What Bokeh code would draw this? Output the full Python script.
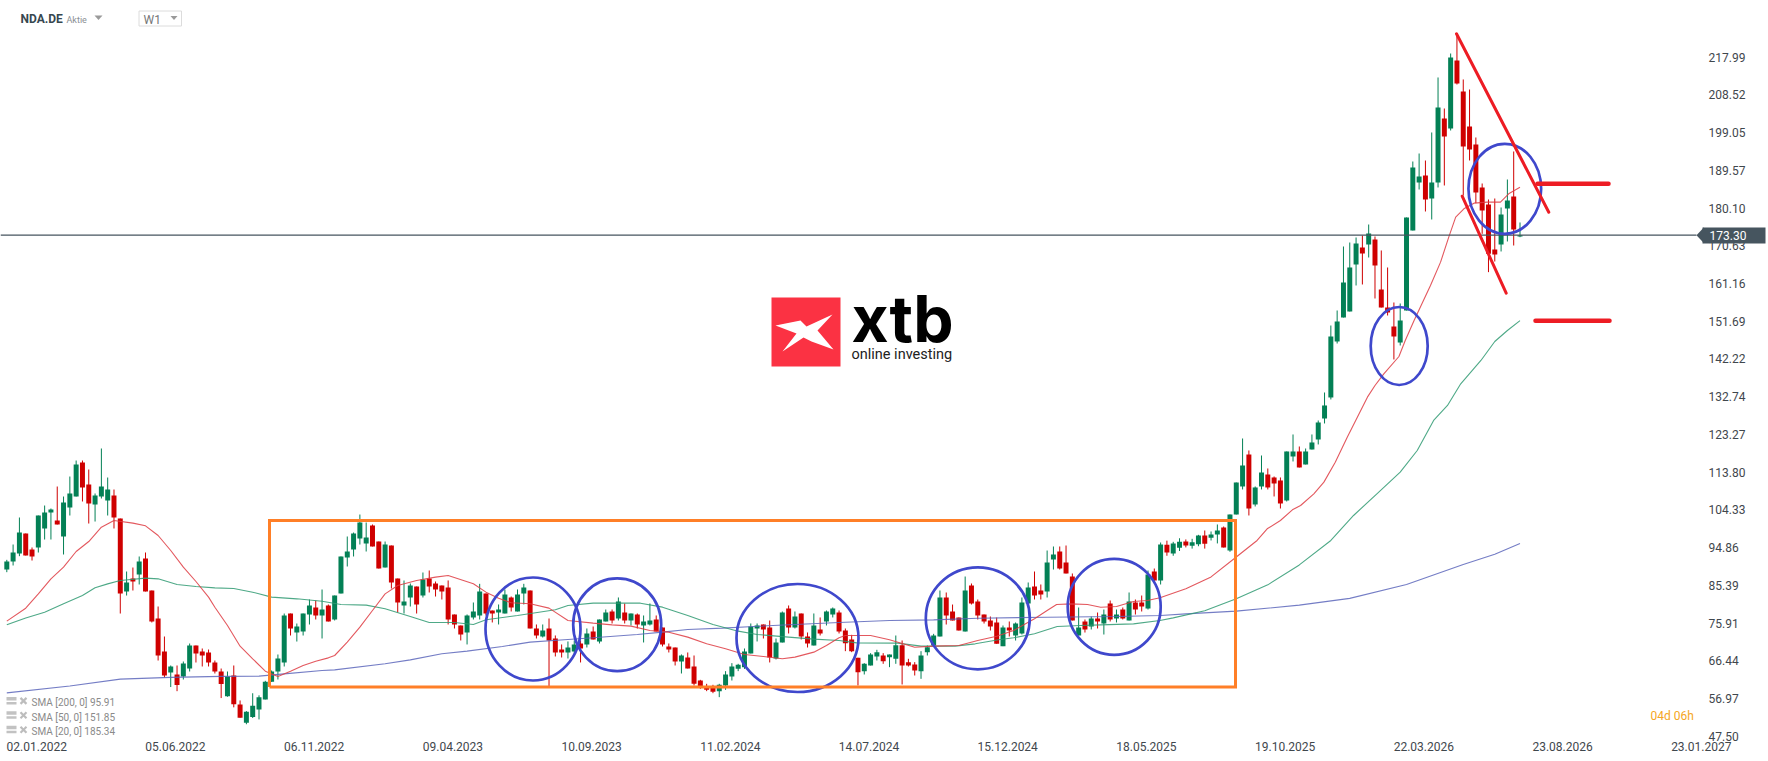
from bokeh.plotting import figure
from bokeh.models import ColumnDataSource, FixedTicker, LinearAxis, Range1d, PolyAnnotation
from bokeh.core.properties import value
from bokeh.embed import file_html
from bokeh.resources import INLINE

opens = [89.35,91.36,93.37,98.39,94.37,94.88,99.65,103.66,101.66,97.64,
104.92,107.68,116.22,110.70,105.67,107.68,106.68,107.93,102.16,83.83,
87.09,88.10,92.11,84.08,77.05,68.76,63.49,62.99,62.48,64.49,
70.27,68.76,68.51,66.00,63.74,57.50,62.74,55.43,50.85,52.32,
54.22,56.73,61.14,63.74,66.00,78.30,73.53,73.78,78.05,79.81,
77.80,80.31,76.80,83.33,92.37,94.37,97.14,95.88,100.40,96.38,
89.85,95.38,87.09,80.31,82.32,85.08,82.82,87.09,85.84,85.34,
84.84,78.06,75.30,73.54,77.31,77.81,83.33,79.06,78.56,78.31,
82.33,78.81,83.33,84.09,74.54,72.53,74.54,72.03,69.27,68.52,
68.77,70.78,70.53,73.79,71.28,76.30,78.81,77.05,78.56,76.55,
78.06,75.30,75.55,76.80,74.79,70.02,69.77,66.26,67.26,65.00,
61.48,59.81,59.64,58.81,60.23,62.49,64.41,64.83,68.27,74.54,
75.55,74.79,67.01,71.03,79.57,74.79,78.31,72.53,70.27,74.29,
76.30,78.06,78.56,74.03,71.78,67.18,63.83,65.25,67.51,67.76,
67.34,66.93,70.36,66.09,65.50,63.83,68.60,70.27,72.53,82.32,
78.81,77.30,73.78,85.33,81.32,78.05,76.54,76.05,70.11,74.79,
72.78,73.28,80.81,85.08,84.08,83.83,91.86,93.87,91.11,87.59,
72.78,76.30,75.04,77.05,75.79,80.81,77.05,79.31,76.55,81.07,
81.07,79.56,88.85,86.59,95.60,93.40,94.80,96.40,95.30,95.70,
97.90,97.31,98.15,99.90,94.12,103.17,110.20,118.23,105.68,110.20,
113.21,112.46,111.71,106.68,117.73,118.99,115.72,119.49,122.00,127.27,
132.55,146.61,152.63,154.14,165.94,170.21,170.96,172.22,159.66,155.14,
150.37,146.35,154.39,174.48,186.53,188.29,182.51,186.53,202.60,200.09,
217.17,209.38,200.59,196.07,185.28,181.01,169.71,170.96,180.00,183.02,
172.97]

highs = [91.78,95.63,102.41,98.39,94.88,102.91,105.42,104.67,110.19,107.68,
112.70,116.72,116.72,114.46,108.44,119.74,112.45,109.44,102.16,88.85,
89.85,92.62,93.62,84.08,80.06,72.53,65.25,65.25,66.25,70.77,
70.27,69.52,69.26,66.50,64.49,63.74,65.25,56.47,53.79,58.28,
57.76,61.40,63.99,68.01,78.30,78.30,75.79,78.30,81.82,81.57,
84.33,80.56,82.82,92.62,97.64,98.64,103.16,101.15,100.65,96.38,
96.38,95.38,87.09,86.59,85.84,85.08,88.60,89.10,86.34,85.34,
86.60,78.06,75.30,78.06,81.07,85.76,83.33,79.06,80.57,84.34,
82.58,84.34,85.76,84.09,75.55,75.55,77.05,72.79,70.53,71.28,
71.53,71.53,74.54,75.04,76.80,79.31,79.31,82.33,80.82,78.31,
78.31,77.81,80.82,77.81,74.79,70.78,69.77,68.02,68.52,67.76,
61.65,60.65,60.40,60.65,63.83,65.84,65.67,69.52,75.80,75.80,
75.55,76.55,72.03,78.81,80.32,78.81,78.31,73.54,78.31,77.31,
79.06,79.82,79.06,74.54,72.95,67.18,65.84,68.35,69.19,68.35,
68.01,72.78,71.53,66.93,66.09,68.85,70.27,73.20,84.08,83.58,
80.56,77.30,87.59,85.84,81.82,78.05,77.55,77.30,75.29,76.30,
76.05,82.32,86.09,88.85,85.59,94.12,95.13,95.13,95.38,88.35,
79.81,76.80,77.55,78.55,79.31,81.57,79.31,79.81,83.58,81.82,
82.82,89.10,89.60,96.13,96.60,96.30,97.20,96.90,97.06,98.06,
99.15,98.90,100.66,100.15,103.17,111.20,122.25,119.24,110.20,117.98,
114.72,112.71,112.46,118.99,123.26,120.24,119.74,123.26,126.77,133.80,
150.62,154.39,170.46,171.46,172.72,173.22,175.98,172.97,169.46,165.19,
156.40,156.15,177.74,191.80,193.81,192.05,199.09,212.90,205.11,218.92,
223.86,212.40,209.88,197.83,186.28,182.26,182.51,180.25,187.28,194.32,
176.49]

lows = [88.68,90.36,92.70,92.87,91.61,93.62,96.88,96.88,100.65,93.12,
102.91,107.68,106.43,100.90,101.40,107.18,102.91,99.65,78.30,82.82,
84.08,85.59,83.83,76.05,66.50,62.23,59.84,58.80,61.73,63.74,
66.00,65.00,65.00,63.24,57.07,57.40,54.74,52.14,50.50,52.06,
51.71,56.73,61.14,61.73,65.00,72.78,71.27,72.78,75.54,76.80,
72.03,76.30,76.55,83.33,90.11,92.62,95.63,93.87,95.13,89.60,
89.85,84.58,78.55,78.30,80.06,78.30,82.32,83.58,82.57,81.82,
75.55,74.54,71.53,70.53,76.80,76.80,77.81,76.05,75.55,78.31,
78.81,78.81,80.57,74.54,72.03,72.28,59.73,67.51,67.26,67.01,
67.76,66.01,69.77,71.78,70.78,76.30,75.80,76.55,75.80,75.30,
74.54,71.03,75.30,73.79,70.02,68.52,65.25,63.24,64.50,60.23,
59.39,58.81,58.30,57.30,59.14,61.48,63.83,64.40,68.27,71.28,
72.03,66.01,66.76,71.03,73.29,74.54,71.78,69.77,70.27,72.79,
75.30,77.31,73.29,68.85,68.60,60.23,62.99,65.25,66.51,65.67,
64.83,65.67,60.48,65.00,62.74,61.90,67.76,70.00,72.53,75.54,
76.55,74.03,73.78,80.56,76.80,75.79,74.03,70.69,70.11,72.53,
71.52,73.03,80.81,81.82,81.82,82.32,89.35,89.35,88.35,76.55,
72.78,73.53,74.29,74.54,73.03,76.30,76.05,76.80,76.55,78.05,
78.81,79.31,86.34,85.59,92.80,92.80,94.00,94.90,94.60,95.20,
94.60,96.64,95.90,94.88,93.80,103.17,109.45,102.92,105.18,109.45,
109.45,107.69,104.67,106.43,116.48,114.97,115.72,119.49,120.75,126.02,
132.05,146.10,152.63,154.14,160.67,160.92,167.70,157.40,155.14,153.13,
142.09,145.60,154.39,174.48,184.77,179.25,177.24,185.28,185.78,199.59,
211.14,183.27,192.06,181.34,173.64,164.02,166.69,169.21,171.72,170.71,
172.80]

closes = [91.36,93.62,98.64,92.87,92.62,102.91,103.66,104.42,100.65,106.18,
108.44,115.72,109.94,105.92,107.93,110.19,109.44,102.41,83.33,86.09,
86.34,91.36,83.83,76.30,67.76,62.74,65.00,60.36,65.75,70.27,
68.26,67.76,66.00,63.74,60.62,62.48,55.52,52.14,53.62,55.17,
57.25,61.14,63.74,67.00,77.80,74.54,75.04,78.30,80.31,77.80,
79.31,76.30,82.82,92.62,93.87,98.39,101.15,97.39,95.13,89.60,
95.63,86.09,81.07,81.32,85.33,80.56,86.84,85.08,84.33,83.83,
76.80,75.55,73.04,77.81,78.81,83.83,78.31,78.31,79.31,83.08,
79.82,83.08,84.84,74.54,72.79,74.04,71.53,68.52,68.52,69.77,
70.53,69.52,73.29,71.78,76.80,78.56,76.55,81.32,76.55,78.31,
75.55,76.30,76.55,73.79,70.53,69.27,66.26,67.76,64.50,60.65,
59.81,59.14,58.64,60.40,62.99,65.00,65.42,68.77,75.04,75.30,
74.29,67.26,71.03,78.56,74.79,77.56,72.53,70.78,75.30,73.29,
78.81,79.57,73.79,70.86,68.85,63.58,65.67,68.01,68.60,66.34,
68.01,70.36,65.25,65.25,64.00,67.76,69.85,72.78,82.32,77.80,
76.55,74.03,84.08,80.81,77.80,76.30,75.04,70.69,74.79,74.03,
75.79,81.07,84.83,82.82,83.08,91.11,93.12,89.60,88.35,76.55,
74.79,74.29,77.05,76.30,78.05,76.80,78.05,77.05,81.32,79.31,
80.06,88.10,86.59,95.63,93.60,95.90,96.30,95.40,96.20,97.90,
95.80,98.15,99.15,94.88,103.17,111.20,115.47,104.67,109.95,113.71,
109.95,110.95,105.93,118.99,118.99,114.97,118.99,121.25,126.27,130.54,
147.86,151.63,161.42,165.19,171.21,168.70,173.73,165.69,155.14,153.89,
147.86,151.88,177.74,190.30,188.04,182.26,186.53,205.36,198.08,217.92,
211.39,195.57,194.82,184.02,179.50,168.62,168.45,178.50,182.01,174.73,
173.30]

sma20 = [(0,76.38),(3,79.64),(5,83.24),(7,87.01),(9,89.94),(11,93.87),(13,96.38),(15,99.98),(17,101.66),(20,101.0),
(22,100.32),(24,97.89),(26,94.12),(28,89.94),(30,86.34),(32,82.41),(33,79.89),(35,75.29),(37,70.10),(39,66.92),
(41,63.82),(43,62.48),(45,63.82),(47,65.25),(49,66.33),(51,67.17),(52,67.76),(54,71.10),(56,74.87),(58,79.06),
(60,83.24),(62,85.33),(65,86.59),(68,87.43),(70,87.85),(74,85.76),(76,83.67),(78,82.16),(80,80.99),(83,80.74),
(86,79.65),(89,76.55),(93,75.88),(96,75.46),(99,75.13),(102,74.04),(105,73.62),(108,72.37),(111,70.69),(114,69.44),
(117,68.02),(120,67.51),(123,66.93),(125,67.35),(128,68.60),(130,70.27),(132,72.20),(133,72.78),(137,72.78),(140,71.70),
(144,69.85),(147,70.11),(151,70.27),(154,71.53),(157,72.60),(159.7,74.03),(163,76.97),(165,79.06),(166.5,80.56),(168.8,80.73),
(171.4,80.56),(173.5,79.89),(176,80.06),(178.7,81.32),(180.9,81.57),(182.9,82.24),(187,84.5),(191,87.5),(195,92.5),(198.3,96.64),
(199.9,99.57),(202,101.66),(203.9,104.34),(205.2,105.43),(207.3,108.36),(208.9,111.29),(210.7,116.31),(212.6,122.59),(214.2,127.61),(215.8,132.63),
(217,135.56),(218.4,138.49),(220.8,142.84),(221.8,146.86),(223.2,151.88),(225.8,160.67),(227.4,166.53),(228.7,172.8),(229.8,177.83),(231.1,179.92),
(232.7,181.34),(234.8,181.6),(236.9,181.6),(238.2,183.69),(240,185.34)]

sma50 = [(0,75.46),(3,77.20),(6,78.64),(9,80.73),(12,82.82),(14,84.75),(16,85.75),(18,86.59),(22,87.18),(24,87.01),
(27,85.59),(30,85.08),(33,84.75),(36,84.58),(39,83.66),(42,82.41),(46,81.99),(50,81.40),(53,80.56),(57,80.40),
(60,79.48),(64,77.55),(67,76.05),(71,76.05),(74,75.55),(76,76.72),(81,77.81),(87,79.23),(89,80.32),(93,80.90),
(100.5,80.90),(104,79.90),(108,77.81),(112,75.55),(116,73.87),(119,73.04),(124,72.37),(128,71.86),(132,71.53),(134.8,70.94),
(141.3,70.86),(145,70.11),(150.4,70.11),(153.6,70.69),(157.3,71.70),(159.7,72.2),(163,73.20),(166.6,75.04),(170.3,75.29),(173.5,75.46),
(178.7,75.71),(182.9,76.55),(185,77.2),(190,79.0),(195,82.0),(200,85.5),(205,90.5),(210,96.64),(213.6,102.92),(217.3,108.36),
(221,113.80),(223.7,119.24),(226.3,126.77),(228.5,130.54),(230.6,135.98),(233.8,141.84),(236,146.6),(238,149.37),(240,151.85)]

sma200 = [(0,58.37),(10,60.10),(18,61.83),(26,62.26),(34,62.52),(40,62.57),(44,63.15),(50,64.0),(52,64.16),(60,65.67),
(64,66.67),(69,68.18),(73,68.85),(78.6,70.02),(83,71.11),(89,71.78),(93,72.20),(100,73.04),(104,73.62),(108,74.29),
(113.5,74.63),(118.5,75.05),(125,75.55),(132,76.05),(140,76.55),(147,76.71),(154,77.13),(165,77.38),(176,77.55),(183,77.80),
(187,78.2),(195,78.9),(205,80.4),(213,82.1),(222,85.6),(231,90.6),(236,93.2),(240,95.91)]

price_ticks = [47.50,56.97,66.44,75.91,85.39,94.86,104.33,113.80,123.27,132.74,142.22,151.69,161.16,170.63,180.10,189.57,199.05,208.52,217.99]
date_weeks = [0,22,44,66,88,110,132,154,176,198,220,242,264]
date_labels = ["02.01.2022","05.06.2022","06.11.2022","09.04.2023","10.09.2023","11.02.2024","14.07.2024","15.12.2024","18.05.2025","19.10.2025","22.03.2026","23.08.2026","23.01.2027"]
sma_legend = ["SMA [200, 0] 95.91", "SMA [50, 0] 151.85", "SMA [20, 0] 185.34"]
last_price = 173.30

assert len(opens) == len(highs) == len(lows) == len(closes) == 241

W, H = 1768, 761
FRAME_W, FRAME_H = 1704, 738
PX_PER_WEEK, X0 = 6.305, 6.3
PRICE_TOP, PRICE_PER_PX = 232.23, 0.2511


def sx(px):
    return (px - X0) / PX_PER_WEEK


def sy(py):
    return PRICE_TOP - PRICE_PER_PX * py


p = figure(width=W, height=H, output_backend="svg", toolbar_location=None,
           x_range=Range1d(sx(0), sx(FRAME_W)), y_range=Range1d(sy(FRAME_H), sy(0)),
           min_border_left=0, min_border_top=0, min_border_right=W - FRAME_W, min_border_bottom=H - FRAME_H,
           x_axis_type=None, y_axis_type=None)
p.grid.visible = False
p.outline_line_color = None
p.background_fill_color = "white"
p.border_fill_color = "white"

FONT = "Roboto"
AXC = "#3f474d"
TAG = "#46555f"

xaxis = LinearAxis(ticker=FixedTicker(ticks=[w + 4.75 for w in date_weeks]),
                   major_label_overrides={w + 4.75: l for w, l in zip(date_weeks, date_labels)})
yaxis = LinearAxis(ticker=FixedTicker(ticks=price_ticks),
                   major_label_overrides={v: f"{v:.2f}" for v in price_ticks})
for ax in (xaxis, yaxis):
    ax.axis_line_color = None
    ax.major_tick_line_color = None
    ax.minor_tick_line_color = None
    ax.major_tick_in = 0
    ax.major_tick_out = 0
    ax.major_label_text_font = FONT
    ax.major_label_text_font_size = "12px"
    ax.major_label_text_color = AXC
xaxis.major_label_standoff = 3
yaxis.major_label_standoff = 4
p.add_layout(xaxis, "below")
p.add_layout(yaxis, "right")

# last-price tag: a second right axis, stacked after the price axis, whose one thick tick reaches back over it
tag_axis = LinearAxis(ticker=FixedTicker(ticks=[last_price]),
                      major_label_overrides={last_price: f"{last_price:.2f}"})
tag_axis.axis_line_color = None
tag_axis.minor_tick_line_color = None
tag_axis.major_tick_in = 46
tag_axis.major_tick_out = 17
tag_axis.major_tick_line_color = TAG
tag_axis.major_tick_line_width = 16
tag_axis.major_label_standoff = -56
tag_axis.major_label_text_font = FONT
tag_axis.major_label_text_font_size = "12px"
tag_axis.major_label_text_color = "white"
p.add_layout(tag_axis, "right")

GREEN, RED = "#038055", "#cf0000"
rows = list(zip(range(len(opens)), opens, highs, lows, closes))
for color, test in ((GREEN, lambda o, c: c >= o), (RED, lambda o, c: c < o)):
    sel = [r for r in rows if test(r[1], r[4])]
    src = ColumnDataSource(dict(w=[r[0] for r in sel], high=[r[2] for r in sel], low=[r[3] for r in sel],
                                top=[max(r[1], r[4]) for r in sel], bottom=[min(r[1], r[4]) for r in sel]))
    p.segment("w", "high", "w", "low", source=src, line_color=color, line_width=1)
    p.vbar("w", width=0.79, top="top", bottom="bottom", source=src, fill_color=color, line_color=None)

for series, color in ((sma200, "#5c66bb"), (sma50, "#2f9a72"), (sma20, "#de3b42")):
    xs, ys = zip(*series)
    p.line(list(xs), list(ys), line_color=color, line_width=1.1, line_alpha=0.85)

# last-price line
p.line([sx(0), sx(1696)], [last_price, last_price], line_color=TAG, line_width=1.2)

# drawn annotations (page-pixel geometry)
def ell(cx, cy, w, h):
    p.ellipse([sx(cx)], [sy(cy)], width=w / PX_PER_WEEK, height=h * PRICE_PER_PX,
              fill_alpha=0, line_color="#3f48cc", line_width=2.7)


for e in ((532.5, 628.5, 95, 103), (616.7, 624.3, 88, 92.7), (797, 637.5, 122, 108), (977.3, 617.8, 104, 102),
          (1113.7, 606.3, 93, 96), (1398.7, 345.5, 57, 78), (1504.3, 188.3, 72.7, 90)):
    ell(*e)

p.line([sx(269), sx(269), sx(1235), sx(1235), sx(269)], [sy(686.5), sy(520), sy(520), sy(686.5), sy(686.5)],
       line_color="#ff7f27", line_width=3, line_join="miter")

for (a, b, c, d, lw) in ((1456, 33.3, 1548.3, 211.7, 3), (1461.7, 195.7, 1505.7, 292.7, 3),
                         (1537, 183.3, 1608, 183.3, 4.5), (1535, 320.3, 1609, 320.3, 4.5)):
    p.line([sx(a), sx(c)], [sy(b), sy(d)], line_color="#ed1c24", line_width=lw, line_cap="round")

# logo
p.quad(left=[sx(771)], right=[sx(840)], top=[sy(297)], bottom=[sy(366)], fill_color="#fb3243", line_color=None)
logo = [(775, 325), (800, 320), (806, 326), (832, 314), (817, 330), (833, 349), (811, 341), (803, 337), (782, 351), (796, 333)]
p.patch([sx(a) for a, b in logo], [sy(b) for a, b in logo], fill_color="white", line_color=None)


def txt(x, y, s, size, color, style="normal", font=FONT):
    p.text([sx(x)], [sy(y)], text=[s], text_font=value(font), text_font_size=f"{size}px", text_color=color,
           text_font_style=style, text_baseline="middle", text_align="left")


txt(851, 318, "xtb", 64, "#000000", "bold", "Inter")
txt(851, 354, "online investing", 14.5, "#222222")

# header
txt(20, 18.5, "NDA.DE", 12, "#37474f", "bold")
txt(66, 19, "Aktie", 9, "#8a8f93")
p.patch([sx(a) for a in (94, 102, 98)], [sy(b) for b in (15, 15, 19.5)], fill_color="#9a9a9a", line_color=None)
p.quad(left=[sx(138.5)], right=[sx(181)], top=[sy(10.5)], bottom=[sy(25.5)], fill_color="white", line_color="#dcdcdc", line_width=1)
txt(143, 19, "W1", 12, "#777777")
p.patch([sx(a) for a in (170, 177, 173.5)], [sy(b) for b in (15.5, 15.5, 19.5)], fill_color="#9a9a9a", line_color=None)

# indicators legend
for yc, s in zip((702.4, 716.8, 731.3), sma_legend):
    p.quad(left=[sx(6)], right=[sx(16)], top=[sy(yc - 6)], bottom=[sy(yc - 2.5)], fill_color="#c2c2c2", line_color=None)
    p.quad(left=[sx(6)], right=[sx(16)], top=[sy(yc - 1)], bottom=[sy(yc + 1.5)], fill_color="#c2c2c2", line_color=None)
    p.line([sx(20), sx(26)], [sy(yc - 5), sy(yc + 1)], line_color="#bdbdbd", line_width=2.2)
    p.line([sx(20), sx(26)], [sy(yc + 1), sy(yc - 5)], line_color="#bdbdbd", line_width=2.2)
    txt(31, yc, s, 10, "#8a8a8a")

txt(1650, 715, "04d 06h", 12, "#f5a623")

# tip of the last-price tag
tag = [(1696, 234.7), (1703.5, 226.7), (1703.5, 242.7)]
p.add_layout(PolyAnnotation(xs=[sx(a) for a, b in tag], ys=[sy(b) for a, b in tag], fill_color=TAG,
                            fill_alpha=1, line_color=None))

open("out.html", "w").write(file_html(p, INLINE))
